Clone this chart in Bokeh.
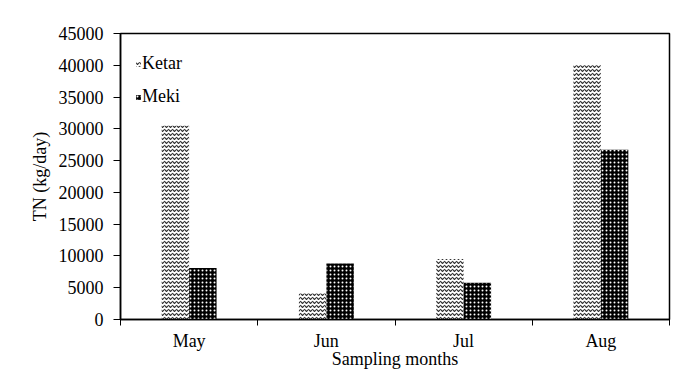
import numpy as np
from bokeh.plotting import figure
from bokeh.models import FixedTicker, Range1d, Legend, LegendItem, ColumnDataSource
from bokeh.transform import dodge
from bokeh.embed import file_html
from bokeh.resources import INLINE

months = ["May", "Jun", "Jul", "Aug"]
ketar = [30500, 4100, 9500, 40000]
meki = [8100, 8800, 5800, 26700]
y_ticks = [0, 5000, 10000, 15000, 20000, 25000, 30000, 35000, 40000, 45000]

pos = [i + 0.5 for i in range(len(months))]
bounds = [float(i) for i in range(len(months) + 1)]
src = ColumnDataSource(dict(x=pos, ketar=ketar, meki=meki))

FONT = "Liberation Serif"

p = figure(width=689, height=373, x_range=Range1d(0, len(months)), y_range=Range1d(0, 45000),
           output_backend="svg", toolbar_location=None,
           min_border_left=120, min_border_right=20, min_border_top=33, min_border_bottom=54)

r1 = p.vbar(x=dodge('x', -0.1, range=p.x_range), top='ketar', width=0.2, source=src,
            fill_color="white", line_color=None, hatch_pattern="horizontal_wave",
            hatch_color="#333333", hatch_scale=4, hatch_weight=1.2)
r2 = p.vbar(x=dodge('x', 0.1, range=p.x_range), top='meki', width=0.2, source=src,
            fill_color="black", line_color=None, hatch_pattern="dot",
            hatch_color="white", hatch_scale=4)

p.xgrid.grid_line_color = None
p.ygrid.grid_line_color = None
p.outline_line_color = "black"
p.outline_line_width = 1.5

xa = p.xaxis[0]
xa.ticker = FixedTicker(ticks=pos, minor_ticks=bounds)
xa.major_label_overrides = {pos[i]: months[i] for i in range(len(months))}
xa.major_tick_out = 0
xa.major_tick_in = 0
xa.minor_tick_out = 6
xa.minor_tick_in = 0
xa.minor_tick_line_color = "black"
xa.axis_label = "Sampling months"
xa.axis_label_standoff = -5
xa.major_label_standoff = 5

ya = p.yaxis[0]
ya.ticker = FixedTicker(ticks=y_ticks)
ya.major_tick_out = 7
ya.major_tick_in = 0
ya.minor_tick_line_color = None
ya.axis_label = "TN (kg/day)"
ya.major_label_standoff = 10
ya.axis_label_standoff = 6

for ax in (xa, ya):
    ax.axis_line_color = "black"
    ax.axis_line_width = 1.5
    ax.major_tick_line_color = "black"
    ax.major_label_text_font = FONT
    ax.major_label_text_font_size = "18px"
    ax.major_label_text_color = "black"
    ax.axis_label_text_font = FONT
    ax.axis_label_text_font_size = "18px"
    ax.axis_label_text_font_style = "normal"
    ax.axis_label_text_color = "black"

legend = Legend(items=[LegendItem(label="Ketar", renderers=[r1]),
                       LegendItem(label="Meki", renderers=[r2])],
                location=(15, 212), border_line_color=None, background_fill_alpha=0,
                glyph_width=6, glyph_height=6, label_standoff=1, spacing=12,
                margin=0, padding=5, label_text_font=FONT, label_text_font_size="18px",
                label_text_color="black")
p.add_layout(legend)

open("out.html", "w").write(file_html(p, INLINE))
